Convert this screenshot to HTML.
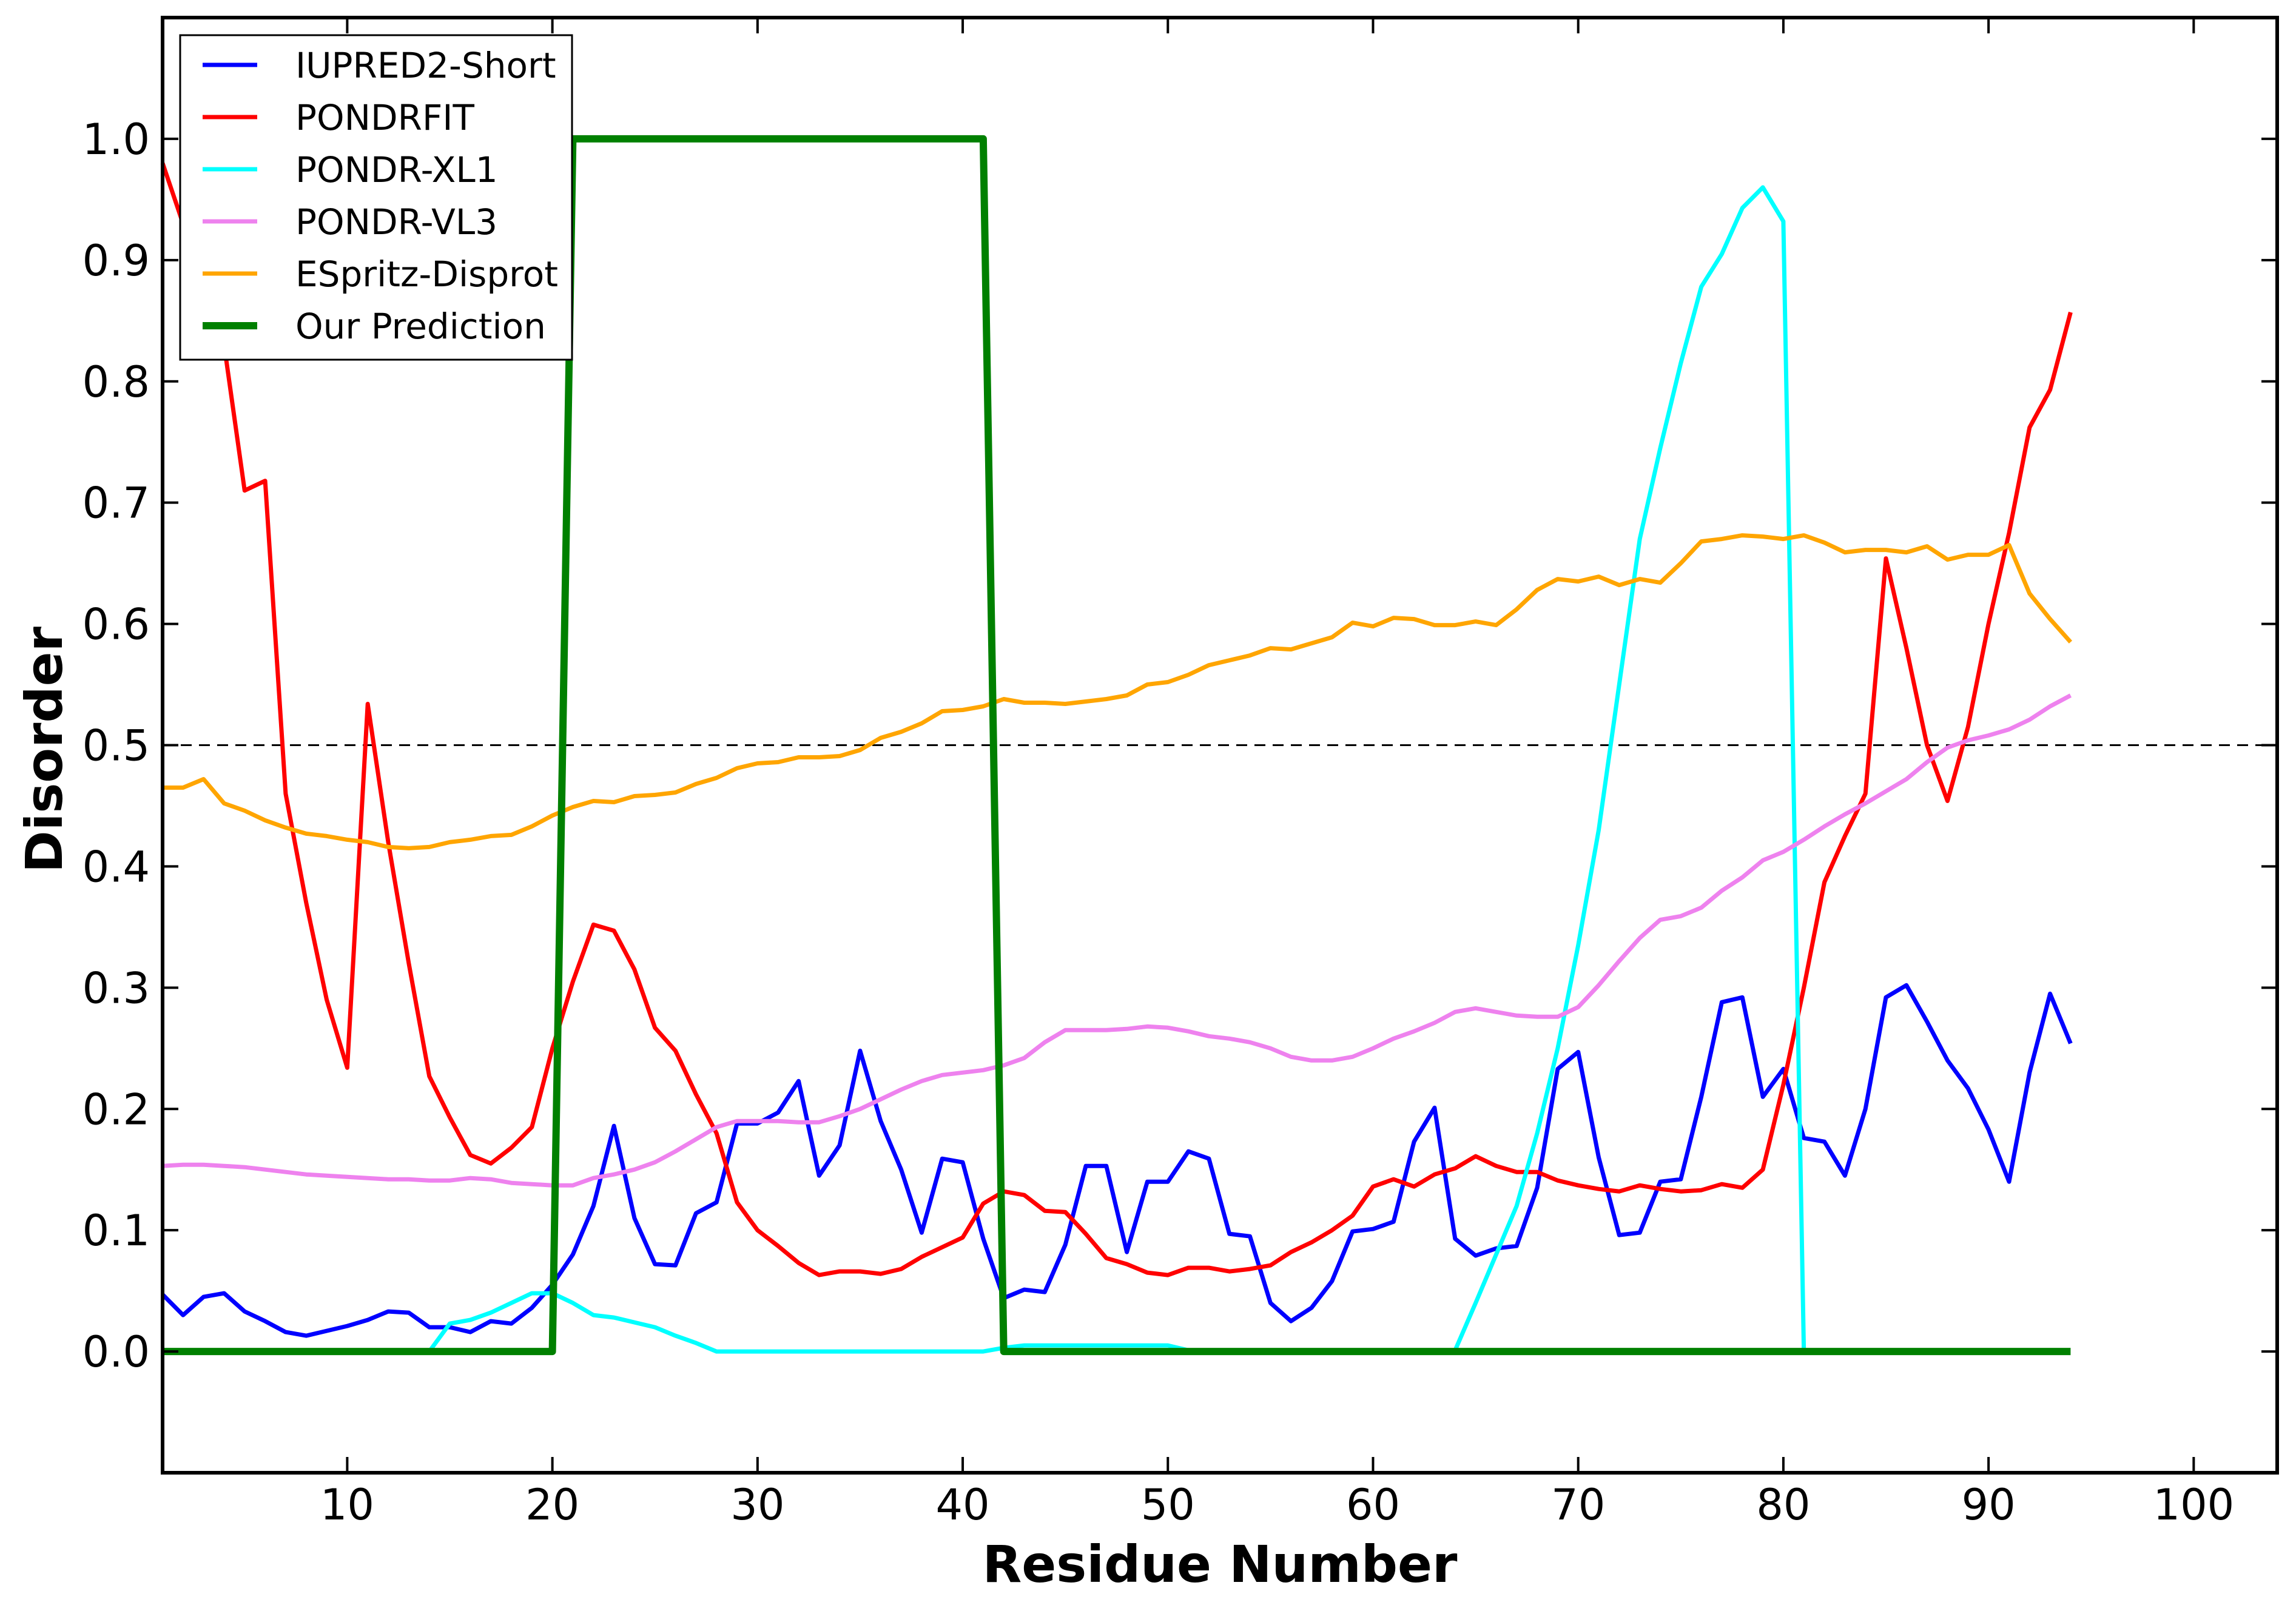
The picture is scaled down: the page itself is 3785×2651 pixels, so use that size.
<!DOCTYPE html>
<html><head><meta charset="utf-8"><style>
html,body{margin:0;padding:0;background:#fff;}
svg{display:block;font-family:"DejaVu Sans","Liberation Sans",sans-serif;}
</style></head><body>
<svg id="chart" width="3785" height="2651" viewBox="0 0 3785 2651" xmlns="http://www.w3.org/2000/svg">
<rect x="0" y="0" width="3785" height="2651" fill="#fff"/>
<g id="plot"></g>
</svg>
<script>
const residues = Array.from({length:94},(_,i)=>i+1);
const iupred = [0.047,0.03,0.045,0.048,0.033,0.025,0.016,0.013,0.017,0.021,0.026,0.033,0.032,0.02,0.02,0.016,0.025,0.023,0.036,0.055,0.08,0.12,0.186,0.11,0.072,0.071,0.114,0.123,0.188,0.188,0.197,0.223,0.145,0.17,0.248,0.19,0.15,0.098,0.159,0.156,0.093,0.044,0.051,0.049,0.088,0.153,0.153,0.082,0.14,0.14,0.165,0.159,0.097,0.095,0.04,0.025,0.036,0.058,0.099,0.101,0.107,0.173,0.201,0.093,0.079,0.085,0.087,0.135,0.233,0.247,0.16,0.096,0.098,0.14,0.142,0.21,0.288,0.292,0.21,0.233,0.176,0.173,0.145,0.2,0.292,0.302,0.272,0.24,0.217,0.183,0.14,0.23,0.295,0.254];
const pondrfit = [0.98,0.93,0.9,0.83,0.71,0.718,0.46,0.37,0.29,0.234,0.534,0.42,0.32,0.227,0.193,0.162,0.155,0.168,0.185,0.25,0.305,0.352,0.347,0.315,0.267,0.248,0.212,0.18,0.123,0.1,0.087,0.073,0.063,0.066,0.066,0.064,0.068,0.078,0.086,0.094,0.122,0.132,0.129,0.116,0.115,0.097,0.077,0.072,0.065,0.063,0.069,0.069,0.066,0.068,0.071,0.082,0.09,0.1,0.112,0.136,0.142,0.136,0.146,0.151,0.161,0.153,0.148,0.148,0.141,0.137,0.134,0.132,0.137,0.134,0.132,0.133,0.138,0.135,0.15,0.22,0.3,0.387,0.425,0.46,0.654,0.58,0.5,0.454,0.515,0.6,0.675,0.762,0.793,0.857];
const xl1 = [0,0,0,0,0,0,0,0,0,0,0,0,0,0,0.023,0.026,0.032,0.04,0.048,0.048,0.04,0.03,0.028,0.024,0.02,0.013,0.007,0,0,0,0,0,0,0,0,0,0,0,0,0,0,0.003,0.005,0.005,0.005,0.005,0.005,0.005,0.005,0.005,0.001,0,0,0,0,0,0,0,0.001,0.001,0.001,0.001,0.001,0.001,0.04,0.08,0.12,0.18,0.25,0.335,0.43,0.55,0.67,0.745,0.815,0.878,0.905,0.943,0.96,0.932,0];
const vl3 = [0.153,0.154,0.154,0.153,0.152,0.15,0.148,0.146,0.145,0.144,0.143,0.142,0.142,0.141,0.141,0.143,0.142,0.139,0.138,0.137,0.137,0.143,0.146,0.15,0.156,0.165,0.175,0.185,0.19,0.19,0.19,0.189,0.189,0.194,0.2,0.208,0.216,0.223,0.228,0.23,0.232,0.236,0.242,0.255,0.265,0.265,0.265,0.266,0.268,0.267,0.264,0.26,0.258,0.255,0.25,0.243,0.24,0.24,0.243,0.25,0.258,0.264,0.271,0.28,0.283,0.28,0.277,0.276,0.276,0.284,0.302,0.322,0.341,0.356,0.359,0.366,0.38,0.391,0.405,0.412,0.422,0.433,0.443,0.452,0.462,0.472,0.486,0.498,0.504,0.508,0.513,0.521,0.532,0.541];
const espritz = [0.465,0.465,0.472,0.452,0.446,0.438,0.432,0.427,0.425,0.422,0.42,0.416,0.415,0.416,0.42,0.422,0.425,0.426,0.433,0.442,0.449,0.454,0.453,0.458,0.459,0.461,0.468,0.473,0.481,0.485,0.486,0.49,0.49,0.491,0.496,0.506,0.511,0.518,0.528,0.529,0.532,0.538,0.535,0.535,0.534,0.536,0.538,0.541,0.55,0.552,0.558,0.566,0.57,0.574,0.58,0.579,0.584,0.589,0.601,0.598,0.605,0.604,0.599,0.599,0.602,0.599,0.612,0.628,0.637,0.635,0.639,0.632,0.637,0.634,0.65,0.668,0.67,0.673,0.672,0.67,0.673,0.667,0.659,0.661,0.661,0.659,0.664,0.653,0.657,0.657,0.665,0.625,0.604,0.585];
const ours = residues.map(r => (r>=21 && r<=41) ? 1 : 0);
const xTicks = [10,20,30,40,50,60,70,80,90,100];
const yTicks = [0.0,0.1,0.2,0.3,0.4,0.5,0.6,0.7,0.8,0.9,1.0];
const legendLabels = ["IUPRED2-Short","PONDRFIT","PONDR-XL1","PONDR-VL3","ESpritz-Disprot","Our Prediction"];

const L=268,R=3754,T=29,B=2428, XMIN=1, XMAX=104.07, YMIN=-0.1, YMAX=1.1;
const xs = v => L + (v-XMIN)/(XMAX-XMIN)*(R-L);
const ys = v => B - (v-YMIN)/(YMAX-YMIN)*(B-T);
const NS="http://www.w3.org/2000/svg";
const g=document.getElementById('plot');
function mk(tag,attrs,parent){const e=document.createElementNS(NS,tag);for(const k in attrs)e.setAttribute(k,attrs[k]);(parent||g).appendChild(e);return e;}

const dl=mk('line',{x1:L,x2:R,y1:ys(0.5),y2:ys(0.5),stroke:'#000','stroke-width':3,'stroke-dasharray':'18,12'});



const series=[
 {vals:iupred,color:'#0000ff',w:7,name:'series-iupred2-short'},
 {vals:pondrfit,color:'#ff0000',w:7,name:'series-pondrfit'},
 {vals:xl1,color:'#00ffff',w:7,name:'series-pondr-xl1'},
 {vals:vl3,color:'#ee82ee',w:7,name:'series-pondr-vl3'},
 {vals:espritz,color:'#ffa500',w:7,name:'series-espritz-disprot'},
 {vals:ours,color:'#008000',w:12,name:'series-our-prediction'}
];
series.forEach(s=>{
  const d=s.vals.map((v,i)=>(i?'L':'M')+xs(residues[i]).toFixed(1)+','+ys(v).toFixed(1)).join(' ');
  const p=mk('path',{d:d,fill:'none',stroke:s.color,'stroke-width':s.w,'stroke-linejoin':'round'});
  
  
});

const fr=mk('rect',{x:L,y:T,width:R-L,height:B-T,fill:'none',stroke:'#000','stroke-width':6});



xTicks.forEach(t=>{
  const x=xs(t);
  mk('line',{x1:x,x2:x,y1:B,y2:B-26,stroke:'#000','stroke-width':4});
  mk('line',{x1:x,x2:x,y1:T,y2:T+26,stroke:'#000','stroke-width':4});
  const tx=mk('text',{x:x,y:2505,'text-anchor':'middle','font-size':70,fill:'#000'});
  tx.textContent=t;
  
  
});
yTicks.forEach(t=>{
  const y=ys(t);
  mk('line',{x1:L,x2:L+26,y1:y,y2:y,stroke:'#000','stroke-width':4});
  mk('line',{x1:R,x2:R-26,y1:y,y2:y,stroke:'#000','stroke-width':4});
  const tx=mk('text',{x:247,y:y+25,'text-anchor':'end','font-size':70,fill:'#000'});
  tx.textContent=t.toFixed(1);
  
  
});
const xt=mk('text',{x:2011,y:2608,'text-anchor':'middle','font-size':84,'font-weight':'bold',fill:'#000'});
xt.textContent='Residue Number';


const yt=mk('text',{x:0,y:0,'text-anchor':'middle','font-size':84,'font-weight':'bold',fill:'#000',transform:'translate(102,1236) rotate(-90)'});
yt.textContent='Disorder';



const lg=mk('g',{});


mk('rect',{x:297,y:58,width:646,height:535,fill:'#fff',stroke:'#000','stroke-width':3},lg);
legendLabels.forEach((lab,i)=>{
  const y=107+i*86;
  const en=mk('g',{},lg);
  
  
  mk('line',{x1:334,x2:424,y1:y,y2:y,stroke:series[i].color,'stroke-width':series[i].w},en);
  const tx=mk('text',{x:487,y:y+21,'font-size':58,fill:'#000'},en);
  tx.textContent=lab;
});
</script>
</body></html>
